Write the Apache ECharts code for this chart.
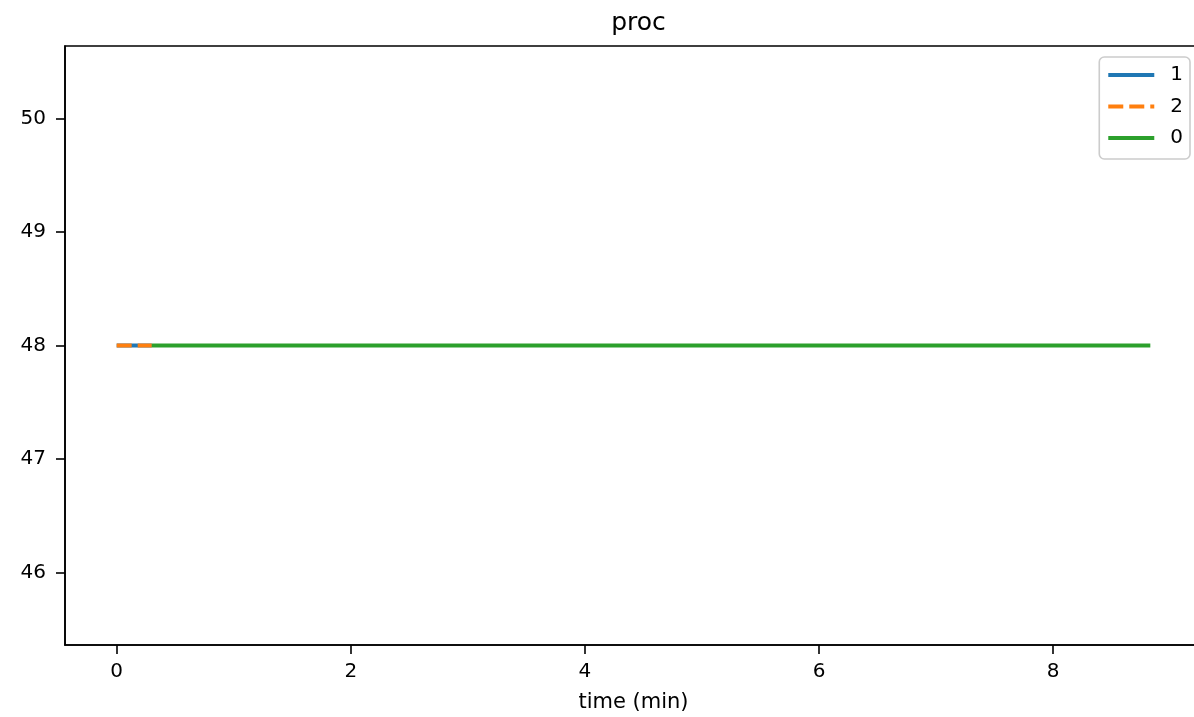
<!DOCTYPE html>
<html>
<head>
<meta charset="utf-8">
<script src="https://cdn.jsdelivr.net/npm/echarts@6/dist/echarts.min.js"></script>
<style>
html,body{margin:0;padding:0;background:#fff;}
#chart{width:1194px;height:717px;}
</style>
</head>
<body>
<div id="chart"></div>
<script>
// ---- data ----
const title = 'proc';
const xName = 'time (min)';
const seriesNames = ['1', '2', '0'];
const time1 = [0, 0.3];
const vals1 = [48, 48];
const time2 = [0, 0.3];
const vals2 = [48, 48];
const time0 = [0.3, 8.83];
const vals0 = [48, 48];
const xTicks = [0, 2, 4, 6, 8];
const yTicks = [46, 47, 48, 49, 50];
const xRange = [-0.4415, 9.2715];
const yRange = [45.36, 50.64];
const colors = ['#1f77b4', '#ff7f0e', '#2ca02c'];

function pairs(t, v) { return t.map((x, i) => [x, v[i]]); }

const font = 'DejaVu Sans';
const gridLeft = 65, gridWidth = 1137;
const chart = echarts.init(document.getElementById('chart'), null, {renderer: 'canvas'});
chart.setOption({
  animation: false,
  backgroundColor: '#ffffff',
  title: {
    text: title, left: gridLeft + gridWidth / 2, textAlign: 'center', top: 6,
    textStyle: {fontFamily: font, fontSize: 25, fontWeight: 'normal', color: '#000'}
  },
  grid: {left: gridLeft, top: 46, width: gridWidth, height: 599, outerBoundsMode: 'none',
         show: true, borderColor: '#000', borderWidth: 1.6, backgroundColor: 'transparent'},
  legend: {
    orient: 'vertical', right: 4, top: 57,
    padding: [8, 7, 11, 7],
    itemWidth: 46, itemHeight: 14, itemGap: 11.5,
    backgroundColor: 'rgba(255,255,255,0.8)',
    borderColor: '#cccccc', borderWidth: 1.6, borderRadius: 5,
    itemStyle: {opacity: 0, borderWidth: 0},
    lineStyle: {width: 4},
    textStyle: {fontFamily: font, fontSize: 20, color: '#000', padding: [0, 0, 0, 11]},
    data: seriesNames
  },
  xAxis: {
    type: 'value', min: xRange[0], max: xRange[1],
    name: xName, nameLocation: 'middle', nameGap: 47,
    nameTextStyle: {fontFamily: font, fontSize: 21, color: '#000'},
    axisLine: {show: true, onZero: false, lineStyle: {color: '#000', width: 1.6}},
    axisTick: {show: true, length: 9, lineStyle: {color: '#000', width: 1.6}, customValues: xTicks},
    axisLabel: {fontFamily: font, fontSize: 20, color: '#000', margin: 17, customValues: xTicks},
    splitLine: {show: false}
  },
  yAxis: {
    type: 'value', min: yRange[0], max: yRange[1],
    axisLine: {show: true, onZero: false, lineStyle: {color: '#000', width: 1.6}},
    axisTick: {show: true, length: 9, lineStyle: {color: '#000', width: 1.6}, customValues: yTicks},
    axisLabel: {fontFamily: font, fontSize: 20, color: '#000', margin: 19, customValues: yTicks},
    splitLine: {show: false}
  },
  series: [
    {name: seriesNames[0], type: 'line', data: pairs(time1, vals1), symbol: 'none', color: colors[0],
     lineStyle: {width: 4, color: colors[0]}},
    {name: seriesNames[1], type: 'line', data: pairs(time2, vals2), symbol: 'none', color: colors[1],
     lineStyle: {width: 4, color: colors[1], type: [15, 6]}},
    {name: seriesNames[2], type: 'line', data: pairs(time0, vals0), symbol: 'none', color: colors[2],
     lineStyle: {width: 4, color: colors[2]}}
  ]
});
</script>
</body>
</html>
